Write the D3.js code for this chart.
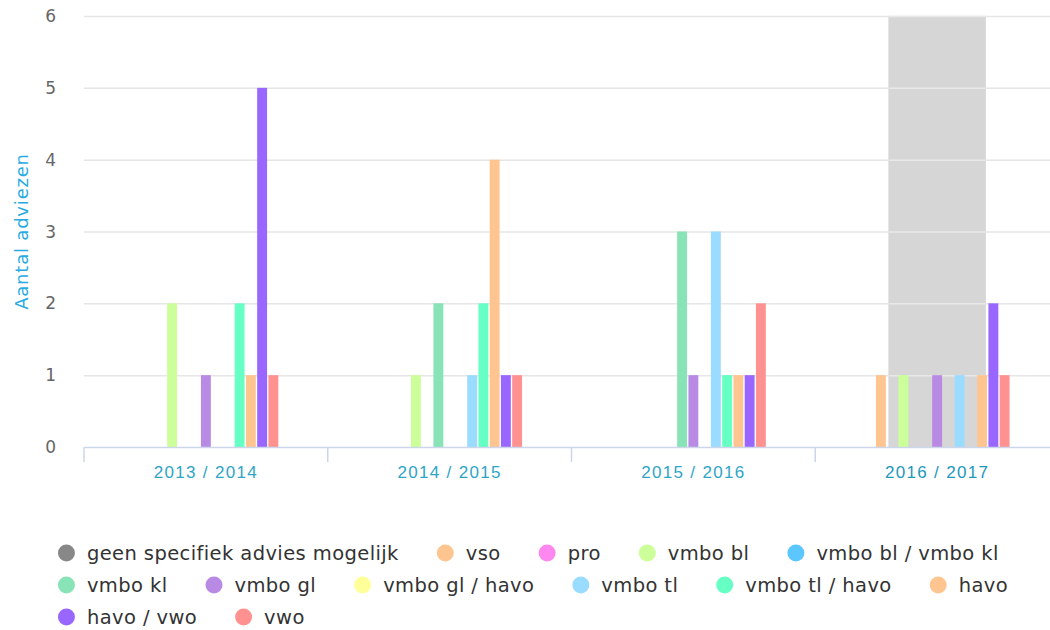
<!DOCTYPE html>
<html>
<head>
<meta charset="utf-8">
<script src="https://cdn.jsdelivr.net/npm/d3@7.9.0/dist/d3.min.js"></script>
<style>
  html, body { margin: 0; padding: 0; background: #fff; }
  svg { display: block; font-family: "DejaVu Sans", "Open Sans", sans-serif; }
</style>
</head>
<body>
<svg id="chart" width="1050" height="630"></svg>
<script>
// school years on the x axis
const categories = ['2013 / 2014', '2014 / 2015', '2015 / 2016', '2016 / 2017'];

// one entry per advice type, values per school year
const seriesNames = [
  'geen specifiek advies mogelijk', 'vso', 'pro', 'vmbo bl', 'vmbo bl / vmbo kl',
  'vmbo kl', 'vmbo gl', 'vmbo gl / havo', 'vmbo tl', 'vmbo tl / havo',
  'havo', 'havo / vwo', 'vwo'
];
const seriesColors = [
  '#888888', '#ffc591', '#ff88f0', '#ccff99', '#5cc6ff',
  '#88e3b6', '#b98ae3', '#ffff99', '#99dcff', '#66ffc4',
  '#ffc591', '#9966ff', '#ff9191'
];
const seriesValues = [
  [0, 0, 0, 0],   // geen specifiek advies mogelijk
  [0, 0, 0, 1],   // vso
  [0, 0, 0, 0],   // pro
  [2, 1, 0, 1],   // vmbo bl
  [0, 0, 0, 0],   // vmbo bl / vmbo kl
  [0, 2, 3, 0],   // vmbo kl
  [1, 0, 1, 1],   // vmbo gl
  [0, 0, 0, 0],   // vmbo gl / havo
  [0, 1, 3, 1],   // vmbo tl
  [2, 2, 1, 0],   // vmbo tl / havo
  [1, 4, 1, 1],   // havo
  [5, 1, 1, 2],   // havo / vwo
  [1, 1, 2, 1]    // vwo
];

// grey highlight band, in category units
const bandFrom = 2.8;
const bandTo   = 3.2;

const yTicks = [0, 1, 2, 3, 4, 5, 6];

const svg = d3.select('#chart');
const margin = { left: 84, top: 16, right: -9, bottom: 183 };
const W = 1050, H = 630;
const plotW = W - margin.left - margin.right;
const plotH = H - margin.top - margin.bottom;

const x0 = d3.scaleBand()
  .domain(d3.range(categories.length))
  .range([margin.left, margin.left + plotW])
  .paddingInner(0).paddingOuter(0);

// linear version of the category axis for the plot band
const xCat = d3.scaleLinear()
  .domain([-0.5, categories.length - 0.5])
  .range([margin.left, margin.left + plotW]);

const groupPad = 0.2 * x0.bandwidth();
const x1 = d3.scaleBand()
  .domain(d3.range(seriesNames.length))
  .range([groupPad, x0.bandwidth() - groupPad])
  .paddingInner(0.12).paddingOuter(0.06);

const y = d3.scaleLinear()
  .domain([0, 6])
  .range([margin.top + plotH, margin.top]);

// gridlines
svg.append('g')
  .selectAll('line')
  .data(yTicks.filter(d => d > 0))
  .join('line')
    .attr('x1', margin.left).attr('x2', margin.left + plotW)
    .attr('y1', d => y(d) + 0.5).attr('y2', d => y(d) + 0.5)
    .attr('stroke', '#e6e6e6').attr('stroke-width', 1.5);

// plot band
svg.append('rect')
  .attr('x', xCat(bandFrom))
  .attr('width', xCat(bandTo) - xCat(bandFrom))
  .attr('y', y(6))
  .attr('height', y(0) - y(6))
  .attr('fill', '#d6d6d6');

// gridlines stay faintly visible across the band
svg.append('g')
  .selectAll('line')
  .data(yTicks.filter(d => d > 0))
  .join('line')
    .attr('x1', xCat(bandFrom)).attr('x2', xCat(bandTo))
    .attr('y1', d => y(d) + 0.5).attr('y2', d => y(d) + 0.5)
    .attr('stroke', '#e8e8e8').attr('stroke-width', 1.5);

// bars
const bars = [];
seriesValues.forEach((vals, s) => {
  vals.forEach((v, c) => { if (v > 0) bars.push({ s, c, v }); });
});

svg.append('g')
  .selectAll('rect')
  .data(bars)
  .join('rect')
    .attr('x', d => x0(d.c) + x1(d.s))
    .attr('width', x1.bandwidth())
    .attr('y', d => y(d.v))
    .attr('height', d => y(0) - y(d.v))
    .attr('fill', d => seriesColors[d.s]);

// x axis line + labels
const xAxis = d3.axisBottom(x0)
  .tickSize(0)
  .tickFormat(i => categories[i]);

const gx = svg.append('g')
  .attr('transform', `translate(0,${y(0)})`)
  .call(xAxis);
gx.select('.domain').attr('stroke', '#ccd6eb').attr('stroke-width', 1.5);
gx.selectAll('.tick text')
  .attr('dy', 0).attr('y', 31)
  .attr('fill', '#2ea5c6')
  .style('font-size', '17px')
  .style('letter-spacing', '1.3px');
gx.selectAll('.tick text')
  .filter((d, i) => i === categories.length - 1)
  .attr('fill', '#1c98bd');

// tick marks sit on the category boundaries
svg.append('g')
  .selectAll('line')
  .data(d3.range(categories.length + 1))
  .join('line')
    .attr('x1', i => xCat(i - 0.5)).attr('x2', i => xCat(i - 0.5))
    .attr('y1', y(0)).attr('y2', y(0) + 15)
    .attr('stroke', '#ccd6eb').attr('stroke-width', 1.5);

// y axis labels
svg.append('g')
  .selectAll('text')
  .data(yTicks)
  .join('text')
    .attr('x', 56)
    .attr('y', d => y(d) + 6)
    .attr('text-anchor', 'end')
    .attr('fill', '#666')
    .style('font-size', '17px')
    .text(d => d);

// y title
svg.append('text')
  .attr('transform', `translate(28,${(y(0) + y(6)) / 2}) rotate(-90)`)
  .attr('text-anchor', 'middle')
  .attr('fill', '#29abe2')
  .style('font-size', '18px')
  .style('letter-spacing', '0.8px')
  .text('Aantal adviezen');

// legend: flow layout, wrapped and centred
const legend = svg.append('g');
const symW = 17, symGap = 12, itemDist = 38, rowH = 32, maxW = 1000;
const items = seriesNames.map((name, i) => {
  const g = legend.append('g');
  g.append('rect')
    .attr('width', symW).attr('height', symW)
    .attr('rx', symW / 2).attr('ry', symW / 2)
    .attr('y', -symW / 2)
    .attr('fill', seriesColors[i]);
  const t = g.append('text')
    .attr('x', symW + symGap)
    .attr('y', 7)
    .attr('fill', '#333')
    .style('font-size', '19.5px')
    .style('letter-spacing', '0.4px')
    .text(name);
  return { g, w: symW + symGap + t.node().getComputedTextLength() };
});

let rowX = 0, row = 0, boxW = 0;
items.forEach(it => {
  if (rowX > 0 && rowX + it.w > maxW) { row++; rowX = 0; }
  it.px = rowX; it.row = row;
  rowX += it.w + itemDist;
  boxW = Math.max(boxW, rowX - itemDist);
});
const legendLeft = (W - boxW) / 2 + 8;
items.forEach(it => {
  it.g.attr('transform', `translate(${legendLeft + it.px},${553 + it.row * rowH})`);
});
</script>
</body>
</html>
